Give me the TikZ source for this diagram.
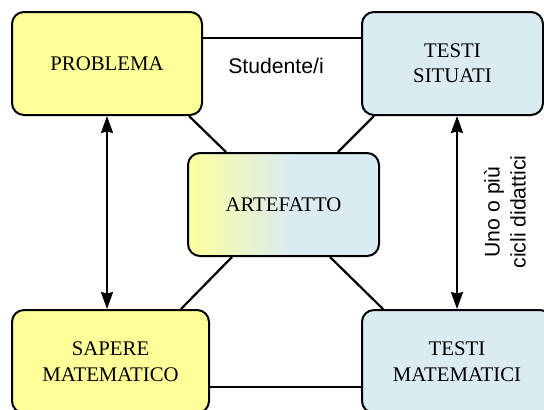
\documentclass[tikz,border=0pt]{standalone}
\usepackage{fontspec}
\setmainfont{Liberation Serif}
\setsansfont{Liberation Sans}
\usetikzlibrary{arrows.meta}
\definecolor{giallo}{HTML}{FFFF99}
\definecolor{azzurro}{HTML}{DAEBF2}
\pgfdeclarehorizontalshading{artshade}{100bp}{color(0bp)=(giallo); color(24bp)=(giallo); color(52bp)=(azzurro); color(100bp)=(azzurro)}
\tikzset{
  box/.style={draw,line width=1pt,rounded corners=6pt,minimum height=51.5pt,align=center,font=\fontsize{10.4}{12.7}\selectfont},
  lato/.style={line width=1.1pt},
  freccia/.style={line width=1.1pt,{Stealth[length=8.5pt,width=6pt,inset=0.8pt]}-{Stealth[length=8.5pt,width=6pt,inset=0.8pt]}},
  etichetta/.style={font=\sffamily\fontsize{10.6}{13}\selectfont,align=center}
}
\begin{document}
\begin{tikzpicture}[x=0.5pt,y=-0.5pt]
			\clip (0,0) rectangle (544,409);
			\node[box,fill=giallo,minimum width=95pt] (prob) at (107,63.5) {PROBLEMA};
			\node[box,fill=azzurro,minimum width=90.5pt] (sit) at (452.5,63.5) {TESTI\\SITUATI};
			\node[box,shading=artshade,minimum width=95.5pt] (art) at (283.5,204.5) {ARTEFATTO};
			\node[box,fill=giallo,minimum width=98.5pt] (sap) at (110.5,361.5) {SAPERE\\MATEMATICO};
			\node[box,fill=azzurro,minimum width=95pt] (mat) at (457,361.5) {TESTI\\MATEMATICI};
			\draw[lato] ([yshift=12.75pt]prob.east) -- ([yshift=12.75pt]sit.west);
			\draw[lato] ([yshift=-12.75pt]sap.east) -- ([yshift=-12.75pt]mat.west);
			\draw[lato] ([xshift=-7pt]prob.south east) -- ([xshift=19.5pt]art.north west);
			\draw[lato] ([xshift=6.5pt]sit.south west) -- ([xshift=-21pt]art.north east);
			\draw[lato] ([xshift=22.5pt]art.south west) -- ([xshift=-14.5pt]sap.north east);
			\draw[lato] ([xshift=-25pt]art.south east) -- ([xshift=11pt]mat.north west);
			\draw[freccia] (prob.south) -- (prob.south |- sap.north);
			\draw[freccia] (mat.north |- sit.south) -- (mat.north);
			\node[etichetta] (stud) at (276,66) {Studente/i};
			\node[etichetta,rotate=90] (cicli) at (505,212) {Uno o più\\cicli didattici};
	\end{tikzpicture}
\end{document}
